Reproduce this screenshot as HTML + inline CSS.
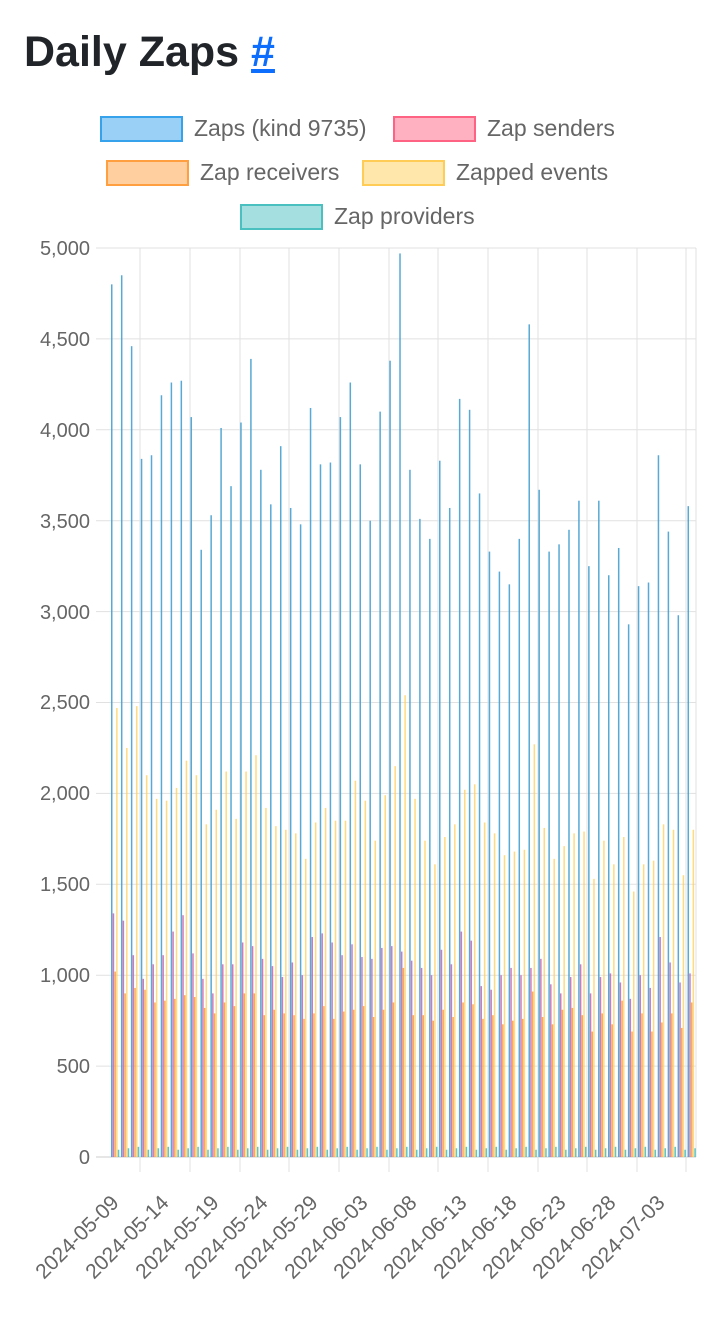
<!DOCTYPE html>
<html><head><meta charset="utf-8"><style>
body{margin:0;background:#fff;width:720px;height:1320px;overflow:hidden;font-family:"Liberation Sans",Roboto,sans-serif}
h1{position:absolute;left:24px;top:26px;margin:0;font-size:43px;font-weight:bold;color:#212529;line-height:52px}
h1 a{color:#0d6efd;text-decoration:underline}
svg{position:absolute;left:0;top:0}
</style></head><body>
<h1>Daily Zaps <a>#</a></h1>
<svg width="720" height="1320" id="s" font-family="Liberation Sans, sans-serif">
<g font-size="23" fill="#666">
<rect x="101" y="117" width="81" height="24" fill="rgba(54,162,235,0.5)" stroke="rgb(54,162,235)" stroke-width="2"/>
<text x="194" y="136">Zaps (kind 9735)</text>
<rect x="394" y="117" width="81" height="24" fill="rgba(255,99,132,0.5)" stroke="rgb(255,99,132)" stroke-width="2"/>
<text x="487" y="136">Zap senders</text>
<rect x="107" y="161" width="81" height="24" fill="rgba(255,159,64,0.5)" stroke="rgb(255,159,64)" stroke-width="2"/>
<text x="200" y="180">Zap receivers</text>
<rect x="363" y="161" width="81" height="24" fill="rgba(255,205,86,0.5)" stroke="rgb(255,205,86)" stroke-width="2"/>
<text x="456" y="180">Zapped events</text>
<rect x="241" y="205" width="81" height="24" fill="rgba(75,192,192,0.5)" stroke="rgb(75,192,192)" stroke-width="2"/>
<text x="334" y="224">Zap providers</text>
</g>
<g id="grid" stroke="#e1e1e1" stroke-width="1"></g>
<g font-size="20" fill="#666" text-anchor="end">
<text x="90" y="255">5,000</text><text x="90" y="346">4,500</text><text x="90" y="437">4,000</text>
<text x="90" y="528">3,500</text><text x="90" y="619">3,000</text><text x="90" y="709">2,500</text>
<text x="90" y="800">2,000</text><text x="90" y="891">1,500</text><text x="90" y="982">1,000</text>
<text x="90" y="1073">500</text><text x="90" y="1164">0</text>
</g>
<g id="bars"></g>
<g font-size="21" fill="#666" text-anchor="end">
<text transform="translate(120,1204) rotate(-45)">2024-05-09</text>
<text transform="translate(170,1204) rotate(-45)">2024-05-14</text>
<text transform="translate(220,1204) rotate(-45)">2024-05-19</text>
<text transform="translate(269,1204) rotate(-45)">2024-05-24</text>
<text transform="translate(319,1204) rotate(-45)">2024-05-29</text>
<text transform="translate(369,1204) rotate(-45)">2024-06-03</text>
<text transform="translate(418,1204) rotate(-45)">2024-06-08</text>
<text transform="translate(468,1204) rotate(-45)">2024-06-13</text>
<text transform="translate(518,1204) rotate(-45)">2024-06-18</text>
<text transform="translate(567,1204) rotate(-45)">2024-06-23</text>
<text transform="translate(617,1204) rotate(-45)">2024-06-28</text>
<text transform="translate(666,1204) rotate(-45)">2024-07-03</text>
</g>
</svg>
<script>
var NS="http://www.w3.org/2000/svg";
function el(p,t,a){var e=document.createElementNS(NS,t);for(var k in a)e.setAttribute(k,a[k]);p.appendChild(e);}
var g=document.getElementById('grid');
for(var i=0;i<=10;i++){var y=248+i*90.9;el(g,'line',{x1:96,x2:696,y1:y,y2:y,stroke:i==10?'#ccc':'#e1e1e1'});}
var ticks=[140,190,240,289,339,389,438,488,538,587,637,686];
ticks.forEach(function(x){el(g,'line',{x1:x,x2:x,y1:248,y2:1172});});
el(g,'line',{x1:696,x2:696,y1:248,y2:1157});
var A=[4800,4850,4460,3840,3860,4190,4260,4270,4070,3340,3530,4010,3690,4040,4390,3780,3590,3910,3570,3480,4120,3810,3820,4070,4260,3810,3500,4100,4380,4970,3780,3510,3400,3830,3570,4170,4110,3650,3330,3220,3150,3400,4580,3670,3330,3370,3450,3610,3250,3610,3200,3350,2930,3140,3160,3860,3440,2980,3580];
var E=[2470,2250,2480,2100,1970,1960,2030,2180,2100,1830,1910,2120,1860,2120,2210,1920,1820,1800,1780,1640,1840,1920,1850,1850,2070,1960,1740,1990,2150,2540,1970,1740,1610,1760,1830,2020,2050,1840,1780,1660,1680,1690,2270,1810,1640,1710,1780,1790,1530,1740,1610,1760,1460,1610,1630,1830,1800,1550,1800];
var S=[1340,1300,1110,980,1060,1110,1240,1330,1120,980,900,1060,1060,1180,1160,1090,1050,990,1070,1000,1210,1230,1180,1110,1170,1100,1090,1150,1160,1130,1080,1040,1000,1140,1060,1240,1190,940,920,1000,1040,1000,1040,1090,950,900,990,1060,900,990,1010,960,870,1000,930,1210,1070,960,1010];
var R=[1020,900,930,920,850,860,870,890,880,820,790,850,830,900,900,780,810,790,780,760,790,830,760,800,810,830,770,810,850,1040,780,780,750,810,770,850,840,760,780,730,750,760,910,770,730,810,820,780,690,790,730,860,690,790,690,740,790,710,850];
var b=document.getElementById('bars');
var cols=["rgb(70,160,210)","rgb(200,110,180)","rgb(255,159,64)","rgb(255,205,86)","rgb(75,192,192)"];
for(var d=0;d<59;d++){
 var x0=111+d*9.94;
 var vals=[A[d],S[d],R[d],E[d],40+(d%3)*8];
 for(var k=0;k<5;k++){
  var h=vals[k]*0.1818;
  el(b,'rect',{x:x0+k*1.7,y:1157-h,width:1.5,height:h,fill:cols[k],'fill-opacity':k==3?0.75:0.9});
 }
}
</script>
</body></html>
